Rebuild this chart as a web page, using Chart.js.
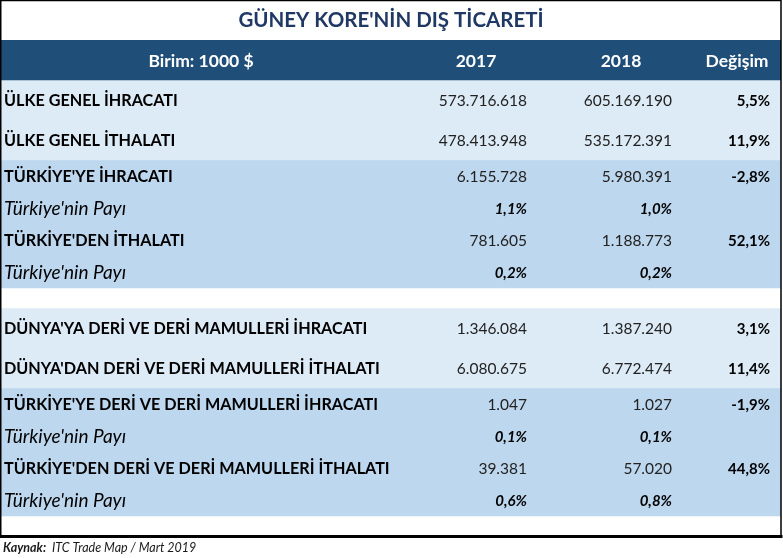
<!DOCTYPE html>
<html>
<head>
<meta charset="utf-8">
<script src="https://cdn.jsdelivr.net/npm/chart.js@4.4.1/dist/chart.umd.min.js"></script>
<style>
  html, body { margin: 0; padding: 0; background: #fff; }
  canvas { display: block; }
</style>
</head>
<body>
<canvas id="myChart" width="783" height="558"></canvas>
<script>
const ctx = document.getElementById('myChart');

// table data
const headers = ['Birim: 1000 $', '2017', '2018', 'Değişim'];
const rowLabels = [
  'ÜLKE GENEL İHRACATI',
  'ÜLKE GENEL İTHALATI',
  "TÜRKİYE'YE İHRACATI",
  "Türkiye'nin Payı",
  "TÜRKİYE'DEN İTHALATI",
  "Türkiye'nin Payı",
  '',
  "DÜNYA'YA DERİ VE DERİ MAMULLERİ İHRACATI",
  "DÜNYA'DAN DERİ VE DERİ MAMULLERİ İTHALATI",
  "TÜRKİYE'YE DERİ VE DERİ MAMULLERİ İHRACATI",
  "Türkiye'nin Payı",
  "TÜRKİYE'DEN DERİ VE DERİ MAMULLERİ İTHALATI",
  "Türkiye'nin Payı"
];
const values2017 = [573716618, 478413948, 6155728, 1.1, 781605, 0.2, null, 1346084, 6080675, 1047, 0.1, 39381, 0.6];
const values2018 = [605169190, 535172391, 5980391, 1.0, 1188773, 0.2, null, 1387240, 6772474, 1027, 0.1, 57020, 0.8];
const changes = [5.5, 11.9, -2.8, null, 52.1, null, null, 3.1, 11.4, -1.9, null, 44.8, null];
const rowKinds = ['world', 'world', 'turkey', 'share', 'turkey', 'share', 'gap',
  'world', 'world', 'turkey', 'share', 'turkey', 'share'];

// layout / style
const kindHeight = { header: 40, world: 40, turkey: 32, share: 32, gap: 20 };
const kindColor = { header: '#1F4E79', world: '#DDEBF7', turkey: '#BDD7EE', share: '#BDD7EE', gap: '#FFFFFF' };
const colX = { label: 4, c2017: 527, c2018: 672, change: 770 };
const headX = [201, 476, 621, 737];
const FONT = 'Lato, "Noto Sans", sans-serif';

const kinds = ['header'].concat(rowKinds);
let bands = [];
let acc = 0;
for (let k of kinds) {
  bands.push([acc, acc + kindHeight[k]]);
  acc += kindHeight[k];
}
const total = acc + 20;

function fmtInt(n) {
  return String(n).replace(/\B(?=(\d{3})+(?!\d))/g, '.');
}
function fmtPct(n) {
  return n.toFixed(1).replace('.', ',') + '%';
}

const datasets = bands.map((b, i) => ({
  label: i === 0 ? 'header' : rowLabels[i - 1],
  data: [b],
  backgroundColor: kindColor[kinds[i]],
  borderWidth: 0,
  barPercentage: 1,
  categoryPercentage: 1,
  grouped: false
}));

const tableText = {
  id: 'tableText',
  afterDatasetsDraw(chart) {
    const c = chart.ctx;
    const y = chart.scales.y;
    const px = (v) => v;  // canvas is the page, so column anchors are page x
    c.save();
    c.textBaseline = 'middle';

    // header
    let mid = y.getPixelForValue((bands[0][0] + bands[0][1]) / 2);
    c.fillStyle = '#FFFFFF';
    c.font = 'bold 17.5px ' + FONT;
    c.textAlign = 'center';
    headers.forEach((h, i) => c.fillText(h, px(headX[i]), mid + 1));

    rowLabels.forEach((lab, i) => {
      const kind = rowKinds[i];
      if (kind === 'gap') return;
      const b = bands[i + 1];
      const m = y.getPixelForValue((b[0] + b[1]) / 2) + 1;
      c.fillStyle = '#000000';
      c.textAlign = 'left';
      c.font = (kind === 'share' ? 'italic 19px ' : 'bold 16.2px ') + FONT;
      c.fillText(lab, px(colX.label), m);

      c.textAlign = 'right';
      if (kind === 'share') {
        c.font = 'italic bold 15px ' + FONT;
        c.fillText(fmtPct(values2017[i]), px(colX.c2017), m);
        c.fillText(fmtPct(values2018[i]), px(colX.c2018), m);
      } else {
        c.fillStyle = '#222222';
        c.font = '15.5px ' + FONT;
        c.fillText(fmtInt(values2017[i]), px(colX.c2017), m);
        c.fillText(fmtInt(values2018[i]), px(colX.c2018), m);
      }
      if (changes[i] !== null) {
        c.fillStyle = '#000000';
        c.font = 'bold 15px ' + FONT;
        c.fillText(fmtPct(changes[i]), px(colX.change), m);
      }
    });
    c.restore();
  },
  afterDraw(chart) {
    const c = chart.ctx;
    const y = chart.scales.y;
    const bottom = y.getPixelForValue(total);
    c.save();
    // frame
    c.strokeStyle = '#000000';
    c.lineWidth = 1.5;
    c.beginPath();
    c.moveTo(0.75, bottom);
    c.lineTo(0.75, 0.5);
    c.lineTo(781, 0.5);
    c.lineTo(781, bottom);
    c.stroke();
    c.lineWidth = 3;
    c.beginPath();
    c.moveTo(0, bottom + 0.5);
    c.lineTo(782.5, bottom + 0.5);
    c.stroke();
    // footer
    c.fillStyle = '#1a1a1a';
    c.textBaseline = 'middle';
    c.textAlign = 'left';
    c.font = 'italic bold 12.5px ' + FONT;
    c.fillText('Kaynak:', 3, 548);
    const w = c.measureText('Kaynak:').width;
    c.font = 'italic 12.5px ' + FONT;
    c.fillText('  ITC Trade Map / Mart 2019', 3 + w, 548);
    c.restore();
  }
};

new Chart(ctx, {
  type: 'bar',
  data: {
    labels: ['table'],
    datasets: datasets
  },
  options: {
    responsive: false,
    animation: false,
    devicePixelRatio: 1,
    layout: { padding: { left: 1, right: 2, top: 0, bottom: 22 } },
    scales: {
      x: { display: false },
      y: { display: false, min: 0, max: total, reverse: true }
    },
    plugins: {
      legend: { display: false },
      tooltip: { enabled: false },
      title: {
        display: true,
        text: "GÜNEY KORE'NİN DIŞ TİCARETİ",
        color: '#1F3864',
        font: { family: FONT, size: 20.5, weight: 'bold', lineHeight: 1.2 },
        padding: { top: 8, bottom: 7.4 }
      }
    }
  },
  plugins: [tableText]
});
</script>
</body>
</html>
